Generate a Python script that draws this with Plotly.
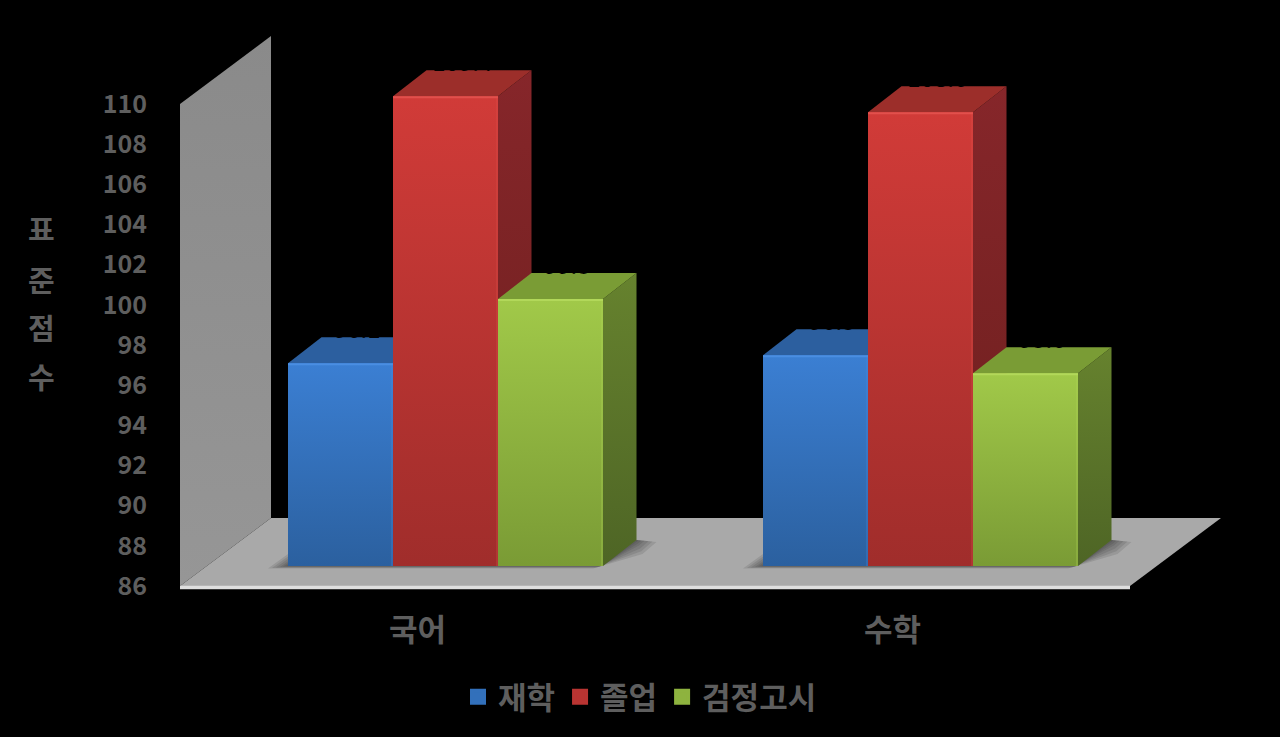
import plotly.graph_objects as go

categories = ["국어", "수학"]
series_names = ["재학", "졸업", "검정고시"]
재학 = [96.1, 96.5]
졸업 = [109.4, 108.6]
검정고시 = [99.3, 95.6]
value_ticks = list(range(86, 111, 2))
axis_title_chars = ["표", "준", "점", "수"]
series_values = [재학, 졸업, 검정고시]

W, H = 1280, 737
PX_X = 475.0          # px per category
PX_Y = 20.08          # px per value unit
X0_PX, Y0_PX = 180.0, 586.0
Y_MIN = 86
dx = lambda px: px / PX_X
dy = lambda px: px / PX_Y

FONT = "Noto Sans CJK KR"
GREY = "#5e5e5e"
FRONT = [("#2b609f", "#3b7fd3"), ("#a02d2b", "#d13b38"), ("#7a9b35", "#a1c949")]
TOPF = ["#2c5f9f", "#9c2e2a", "#7a9c35"]
SIDE = [("#1f4675", "#2a5a96"), ("#6c1f1d", "#86262a"), ("#4e6525", "#66822e")]
EDGE = ["#4a8ee2", "#e2504c", "#b2d85a"]
BASE_C = ["#3270bb", "#b93432", "#8eb33f"]

bar_w = dx(105)
plane_x, plane_y = dx(28), dy(20)
depth_x, depth_y = dx(33.5), dy(26)
wall_x, wall_y = dx(91), dy(68)
STROKE = 4  # bar outline in px; it only enlarges the legend swatch, so the bar is inset by it

def poly(xs, ys, bottom, top):
    return go.Scatter(x=xs, y=ys, mode="lines", fill="toself", line=dict(width=0),
                      fillgradient=dict(type="vertical", colorscale=[[0, bottom], [1, top]]),
                      hoverinfo="skip", showlegend=False)

fig = go.Figure()

# real bars (front faces), carry the legend
for k, name in enumerate(series_names):
    fig.add_trace(go.Bar(
        name=name,
        x=[i + 0.5 + plane_x + (k - 1) * bar_w for i in range(len(categories))],
        y=[v - Y_MIN - dy(STROKE) for v in series_values[k]],
        base=Y_MIN + plane_y + dy(STROKE / 2), width=bar_w - dx(STROKE),
        marker=dict(color=BASE_C[k], line=dict(color=BASE_C[k], width=STROKE)),
        hoverinfo="name+y",
    ))

# wall and floor
n = len(categories)
fig.add_trace(poly([0, wall_x, wall_x, 0, 0],
                   [Y_MIN, Y_MIN + wall_y, value_ticks[-1] + wall_y, value_ticks[-1], Y_MIN],
                   "#969696", "#8a8a8a"))
fig.add_trace(poly([0, n, n + wall_x, wall_x, 0],
                   [Y_MIN, Y_MIN, Y_MIN + wall_y, Y_MIN + wall_y, Y_MIN],
                   "#a9a9a9", "#a9a9a9"))
fig.add_trace(go.Scatter(x=[0, n], y=[Y_MIN - dy(1.5)] * 2, mode="lines",
                         line=dict(color="#dedede", width=3.5),
                         hoverinfo="skip", showlegend=False))

# soft shadow under each group
for i in range(n):
    L = i + 0.5 + plane_x - 1.5 * bar_w
    R = L + 3 * bar_w
    b = Y_MIN + plane_y
    for g in (20, 16, 12, 8, 5, 2):
        fig.add_trace(go.Scatter(
            x=[L - dx(g), R - dx(g * 0.5), R + depth_x + dx(g * 0.3), R + depth_x + dx(g), R + depth_x, L, L - dx(g)],
            y=[b - dy(g * 0.12), b - dy(g * 0.12), b + depth_y - dy(g * 0.7),
               b + depth_y - dy(g * 0.1), b + depth_y, b + dy(g * 0.6), b - dy(g * 0.12)],
            mode="lines", fill="toself", line=dict(width=0),
            fillcolor="rgba(40,40,40,0.13)", hoverinfo="skip", showlegend=False))

# 3-D box faces, painted from left to right
for i in range(n):
    for k in range(len(series_names)):
        v = series_values[k][i]
        c = i + 0.5 + plane_x + (k - 1) * bar_w
        L, R = c - bar_w / 2, c + bar_w / 2
        b, t = Y_MIN + plane_y, v + plane_y
        fig.add_trace(poly([R, R + depth_x, R + depth_x, R, R],
                           [b, b + depth_y, t + depth_y, t, b], SIDE[k][0], SIDE[k][1]))
        fig.add_trace(poly([L, R, R + depth_x, L + depth_x, L],
                           [t, t, t + depth_y, t + depth_y, t], TOPF[k], TOPF[k]))
        fig.add_trace(poly([L, R, R, L, L], [b, b, t, t, b], FRONT[k][0], FRONT[k][1]))
        fig.add_trace(go.Scatter(x=[R - dx(1), R - dx(1)], y=[b, t], mode="lines",
                                 line=dict(color=EDGE[k], width=1.5), opacity=0.35,
                                 hoverinfo="skip", showlegend=False))
        fig.add_trace(go.Scatter(x=[L, R], y=[t - dy(1)] * 2, mode="lines",
                                 line=dict(color=EDGE[k], width=2),
                                 hoverinfo="skip", showlegend=False))

# data labels: black, only their lower part shows on the top faces
lx, ly, lt = [], [], []
for i in range(n):
    for k in range(len(series_names)):
        v = series_values[k][i]
        lx.append(i + 0.5 + plane_x + (k - 1) * bar_w + depth_x / 2)
        ly.append(v + plane_y + depth_y - dy(7))
        lt.append(f"{v:.1f}")
fig.add_trace(go.Scatter(x=lx, y=ly, text=lt, mode="text", textposition="top center",
                         textfont=dict(color="#000000", size=24, family=FONT),
                         hoverinfo="skip", showlegend=False))

for ch, py in zip(axis_title_chars, [228, 279, 327, 376]):
    fig.add_annotation(text=ch, x=41 / W, y=1 - py / H, xref="paper", yref="paper",
                       xanchor="center", yanchor="middle", showarrow=False,
                       font=dict(size=29, color=GREY, family=FONT, weight=700))

fig.update_layout(
    width=W, height=H, margin=dict(l=0, r=0, t=0, b=0), autosize=False,
    paper_bgcolor="#000000", plot_bgcolor="#000000", barmode="overlay",
    showlegend=True,
    legend=dict(orientation="h", x=458 / W, xanchor="left", y=1 - 697 / H, yanchor="middle",
                bgcolor="rgba(0,0,0,0)", font=dict(size=31, color=GREY, family=FONT, weight=700),
                tracegroupgap=0, traceorder="normal"),
    xaxis=dict(range=[-X0_PX / PX_X, (W - X0_PX) / PX_X], tickmode="array",
               tickvals=[i + 0.5 for i in range(n)], ticktext=categories,
               anchor="free", position=1 - Y0_PX / H, domain=[0, 1],
               showgrid=False, zeroline=False, showline=False,
               ticks="outside", ticklen=17, tickcolor="rgba(0,0,0,0)",
               tickfont=dict(size=31, color=GREY, family=FONT, weight=700)),
    yaxis=dict(range=[Y_MIN - (H - Y0_PX) / PX_Y, Y_MIN + Y0_PX / PX_Y], tickmode="array",
               tickvals=value_ticks, anchor="free", position=X0_PX / W, domain=[0, 1],
               showgrid=False, zeroline=False, showline=False,
               ticks="outside", ticklen=28, tickcolor="rgba(0,0,0,0)",
               tickfont=dict(size=25, color=GREY, family=FONT, weight=700)),
)
fig.write_html("out.html", config={"displayModeBar": False},
               post_script="document.body.style.margin='0';document.body.style.background='#000';document.body.style.overflow='hidden';")
